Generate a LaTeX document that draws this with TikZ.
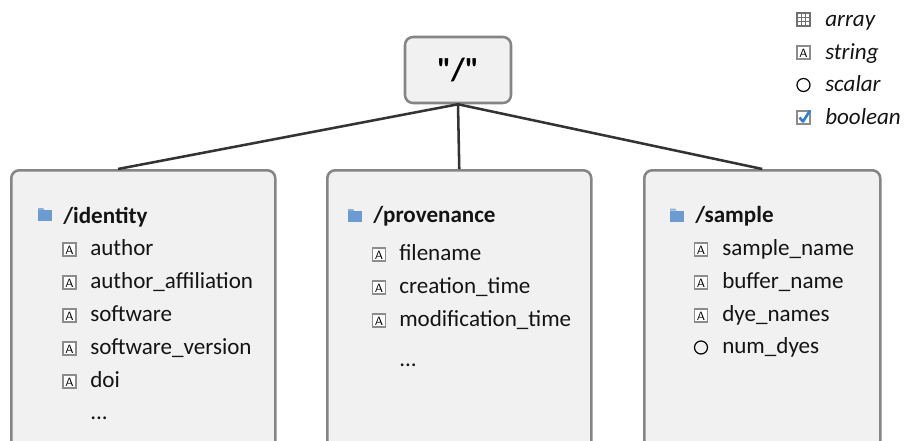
\documentclass[tikz,border=0pt]{standalone}
\usepackage{fontspec}
\setmainfont{Carlito}
\newfontfamily\rootfont{Carlito}[Ligatures=TeXOff]
\usetikzlibrary{positioning}
\usepackage{xcolor}
\definecolor{boxgray}{HTML}{858585}
\definecolor{boxfill}{HTML}{F1F1F1}
\definecolor{linegray}{HTML}{333333}
\definecolor{icongray}{HTML}{8C8C8C}
\definecolor{folderblue}{HTML}{6C9BD2}
\definecolor{checkblue}{HTML}{2F7FD8}

\tikzset{
  grp/.style = {draw=boxgray, fill=boxfill, line width=1.9pt, rounded corners=6pt, anchor=north west, minimum height=225pt},
  conn/.style = {draw=linegray, line width=1.9pt},
  item/.style = {anchor=base west, inner sep=0pt, text=black!92, font=\fontsize{17.3}{20}\selectfont},
  head/.style = {item, font=\fontsize{17.3}{20}\selectfont\bfseries},
  leg/.style = {item, font=\fontsize{17.3}{20}\selectfont\itshape},
  % small type icons, about 14px wide
  stricon/.pic = {
    \draw[icongray, fill=white, line width=0.8pt] (-6.5,-6.5) rectangle (6.5,6.5);
    \node[inner sep=0pt, font=\fontsize{9}{9}\selectfont\sffamily] (-a) at (0,0.4) {A};
  },
  arricon/.pic = {
    \draw[icongray!80!black, fill=white, line width=0.8pt] (-6.5,-6.5) rectangle (6.5,6.5);
    \draw[icongray!80!black, line width=0.6pt] (-2.2,-6.5) -- (-2.2,6.5) (2.2,-6.5) -- (2.2,6.5) (-6.5,-2.2) -- (6.5,-2.2) (-6.5,2.2) -- (6.5,2.2);
  },
  sclicon/.pic = {
    \draw[black, line width=0.9pt] (0,0) circle[radius=6.5];
  },
  boolicon/.pic = {
    \draw[icongray, fill=white, line width=0.8pt] (-6.5,-6.5) rectangle (6.5,6.5);
    \draw[checkblue, line width=2pt, line join=round] (-4,0) -- (-0.5,4) -- (6.5,-7);
  },
  foldericon/.pic = {
    \fill[folderblue!80!white] (-7,-4.5) -- (-7,-6.5) -- (-2,-6.5) -- (-0.5,-4.5) -- cycle;
    \fill[folderblue] (-7,-4.5) rectangle (7,6.5);
  },
}

\begin{document}
\begin{tikzpicture}[x=0.75pt, y=-0.75pt]
\path[use as bounding box, clip] (0,0) rectangle (904,440);

% root group
\node[draw=boxgray, fill=boxfill, line width=1.9pt, rounded corners=6pt, minimum width=79.5pt, minimum height=49.5pt, font=\rootfont\fontsize{24}{26}\selectfont\bfseries] (root) at (458,70) {"/"};

% the three groups
\node[grp, minimum width=198pt] (identity) at (10,169) {};
\node[grp, minimum width=198pt] (provenance) at (326,169) {};
\node[grp, minimum width=177pt] (sample) at (643,169) {};

\draw[conn] (root.south) -- ([xshift=81pt]identity.north west);
\draw[conn] (root.south) -- (provenance.north);
\draw[conn] (root.south) -- (sample.north);

% /identity
\pic at (45,214.5) {foldericon};
\node[head] (hid) at (63,223) {/identity};
\pic (i1) at (69.5,249.5) {stricon};
\node[item] (author) at (90,255) {author};
\pic (i2) at (69.5,282.5) {stricon};
\node[item] (affil) at (90,288) {author\_affiliation};
\pic (i3) at (69.5,315.5) {stricon};
\node[item] (soft) at (90,321) {software};
\pic (i4) at (69.5,348.5) {stricon};
\node[item] (softver) at (90,354) {software\_version};
\pic (i5) at (69.5,381.5) {stricon};
\node[item] (doi) at (90,387) {doi};
\node[item] (idmore) at (90,419) {...};

% /provenance
\pic at (355,215.5) {foldericon};
\node[head] (hprov) at (373,222) {/provenance};
\pic (p1) at (379,254.5) {stricon};
\node[item] (fname) at (399,260) {filename};
\pic (p2) at (379,287.5) {stricon};
\node[item] (ctime) at (399,293) {creation\_time};
\pic (p3) at (379,320.5) {stricon};
\node[item] (mtime) at (399,326) {modification\_time};
\node[item] (provmore) at (399,366) {...};

% /sample
\pic at (677,215) {foldericon};
\node[head] (hsam) at (695,222) {/sample};
\pic (s1) at (701,249.5) {stricon};
\node[item] (sname) at (722,255) {sample\_name};
\pic (s2) at (701,282.5) {stricon};
\node[item] (bname) at (722,288) {buffer\_name};
\pic (s3) at (701,315.5) {stricon};
\node[item] (dnames) at (722,321) {dye\_names};
\pic at (701,347.5) {sclicon};
\node[item] (ndyes) at (722,353) {num\_dyes};

% legend
\pic at (803.5,19.5) {arricon};
\node[leg] (larray) at (825,26) {array};
\pic (l2) at (803.5,52.5) {stricon};
\node[leg] (lstring) at (825,59) {string};
\pic at (803.5,85) {sclicon};
\node[leg] (lscalar) at (825,91.5) {scalar};
\pic at (803.5,117.5) {boolicon};
\node[leg] (lbool) at (825,124) {boolean};
\end{tikzpicture}
\end{document}
